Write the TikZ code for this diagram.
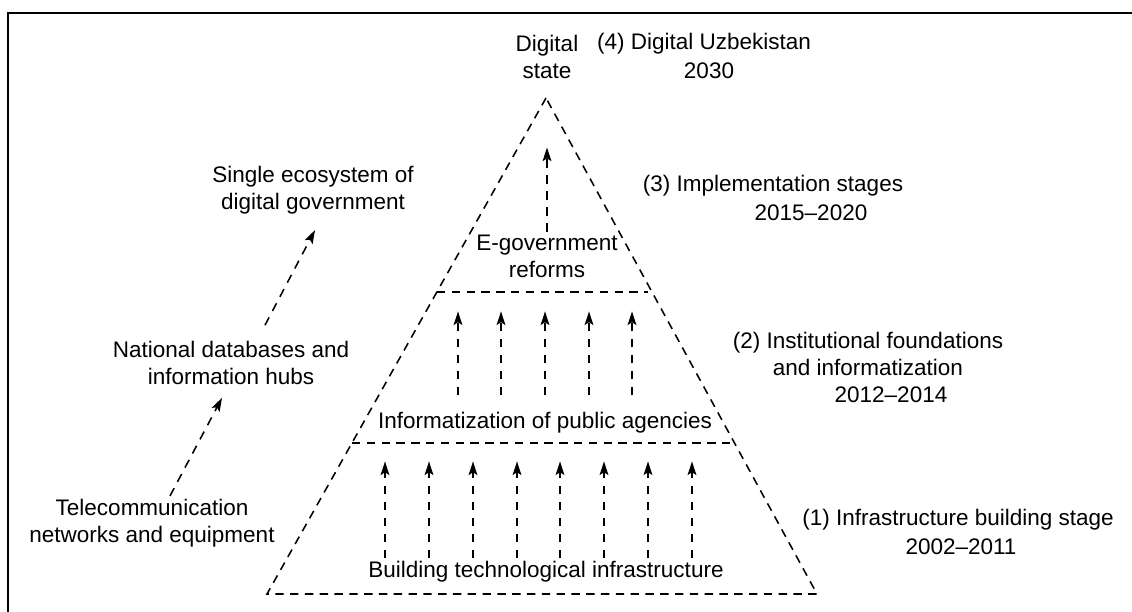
\documentclass[tikz,border=0pt]{standalone}
\usepackage{fontspec}
\setmainfont{Liberation Sans}
\usepackage{tikz}
\usetikzlibrary{arrows.meta, positioning, calc}
\tikzset{
	lbl/.style      ={align=center, inner sep=2pt},
	dashline/.style ={line width=1.1pt, dash pattern=on 0.21cm off 0.16cm},
	flowarr/.style  ={-{Stealth[length=0.34cm, width=0.22cm, inset=0.07cm]}, line width=1.1pt, dash pattern=on 0.22cm off 0.18cm},
	frameline/.style={line width=1.5pt},
}
\begin{document}
\begin{tikzpicture}[x=0.025cm, y=-0.025cm, font=\fontsize{16}{19.2}\selectfont]
			\useasboundingbox (0,0) rectangle (1132,612);
			\draw[frameline] (8,612) -- (8,13) -- (1132,13);
			% pyramid
			\coordinate (apex) at (546,98);
			\coordinate (bl) at (267,594);
			\coordinate (br) at (817,594);
			\draw[dashline] (apex) -- (bl) -- (br) -- cycle;
			\draw[dashline] ($(apex)!0.391!(bl)$) -- ($(apex)!0.391!(br)+(-4,0)$);
			\draw[dashline] ($(apex)!0.6956!(bl)$) -- ($(apex)!0.6956!(br)+(-4,0)$);
			% levels
			\node[lbl] (digst) at (547,57) {Digital\\state};
			\node[lbl] (egov) at (547,256) {E-government\\reforms};
			\node[lbl] (infag) at (545,423) {Informatization of public agencies};
			\node[lbl] (bti) at (546,572) {Building technological infrastructure};
			% stages
			\node[lbl] (st4) at (704,44) {(4) Digital Uzbekistan};
			\node[lbl] (yr4) at (709,71) {2030};
			\node[lbl] (st3) at (773,186) {(3) Implementation stages};
			\node[lbl] (yr3) at (811,213) {2015–2020};
			\node[lbl] (st2) at (868,354) {(2) Institutional foundations\\and informatization};
			\node[lbl] (yr2) at (891,395) {2012–2014};
			\node[lbl] (st1) at (958,520) {(1) Infrastructure building stage};
			\node[lbl] (yr1) at (961,547) {2002–2011};
			% left side
			\node[lbl] (eco) at (313,190) {Single ecosystem of\\digital government};
			\node[lbl] (natdb) at (231,363) {National databases and\\information hubs};
			\node[lbl] (tele) at (152,523) {Telecommunication\\networks and equipment};
			\draw[flowarr] ($(tele.north)+(18,0)$) -- ($(natdb.south)+(-9,10)$);
			\draw[flowarr] ($(natdb.north)+(34,-13)$) -- ($(eco.south)+(2,13)$);
			% arrows
			\foreach \x in {385,429,473,517,560,604,648,692}
				\draw[flowarr] (bti.north -| \x,0) -- ++(0,-97);
			\foreach \x in {458,501,545,589,632}
				\draw[flowarr, shorten <=0.35cm] (infag.north -| \x,0) -- ++(0,-98);
			\draw[flowarr] (egov.north) -- ++(0,-84);
		\end{tikzpicture}
\end{document}
